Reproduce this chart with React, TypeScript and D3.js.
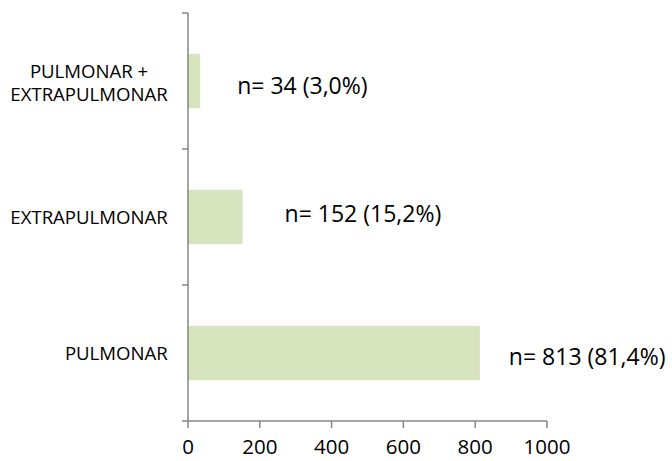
import React, { useEffect, useRef } from 'react';
import * as d3 from 'd3';

const categories = ['PULMONAR + EXTRAPULMONAR', 'EXTRAPULMONAR', 'PULMONAR'];
const categoryLines = [['PULMONAR +', 'EXTRAPULMONAR'], ['EXTRAPULMONAR'], ['PULMONAR']];
const counts = [34, 152, 813];
const valueLabels = ['n= 34 (3,0%)', 'n= 152 (15,2%)', 'n= 813 (81,4%)'];
const xTicks = [0, 200, 400, 600, 800, 1000];

// hand-placed label nudges (relative to bar end / bar centre)
const labelDx = [37, 42, 29];
const labelDy = [5, -3, 4];

export default function App() {
  const svgRef = useRef<SVGSVGElement>(null);

  useEffect(() => {
    if (!svgRef.current) return;
    d3.select(svgRef.current).selectAll('*').remove();

    const W = 672;
    const H = 461;
    const margin = { top: 13, right: 125, bottom: 40, left: 188 };
    const width = W - margin.left - margin.right;
    const height = H - margin.top - margin.bottom;
    const font = '"Open Sans", sans-serif';
    const axisColor = '#868686';

    const svg = d3
      .select(svgRef.current)
      .append('g')
      .attr('transform', `translate(${margin.left},${margin.top})`);

    const x = d3.scaleLinear().domain([0, 1000]).range([0, width]);
    const y = d3
      .scaleBand()
      .domain(categories)
      .range([0, height])
      .paddingInner(0.6)
      .paddingOuter(0.3);
    const step = y.step();

    // bars
    svg
      .selectAll('.bar')
      .data(categories)
      .enter()
      .append('rect')
      .attr('x', 0)
      .attr('y', (d) => y(d)!)
      .attr('width', (_, i) => x(counts[i]))
      .attr('height', y.bandwidth())
      .attr('fill', '#d7e4bd');

    // y axis
    svg
      .append('line')
      .attr('x1', 0)
      .attr('x2', 0)
      .attr('y1', 0)
      .attr('y2', height)
      .attr('stroke', axisColor)
      .attr('stroke-width', 1.5);
    svg
      .selectAll('.ytick')
      .data(d3.range(categories.length + 1))
      .enter()
      .append('line')
      .attr('x1', -6)
      .attr('x2', 0)
      .attr('y1', (i) => i * step)
      .attr('y2', (i) => i * step)
      .attr('stroke', axisColor)
      .attr('stroke-width', 1.5);

    // x axis
    svg
      .append('line')
      .attr('x1', 0)
      .attr('x2', x(1000))
      .attr('y1', height)
      .attr('y2', height)
      .attr('stroke', axisColor)
      .attr('stroke-width', 1.5);
    svg
      .selectAll('.xtick')
      .data(xTicks)
      .enter()
      .append('line')
      .attr('x1', (d) => x(d))
      .attr('x2', (d) => x(d))
      .attr('y1', height)
      .attr('y2', height + 7)
      .attr('stroke', axisColor)
      .attr('stroke-width', 1.5);
    svg
      .selectAll('.xlabel')
      .data(xTicks)
      .enter()
      .append('text')
      .attr('x', (d) => x(d))
      .attr('y', height + 26)
      .attr('dy', '0.357em')
      .attr('text-anchor', 'middle')
      .attr('font-family', font)
      .attr('font-size', 20.5)
      .attr('fill', '#000')
      .text((d) => d);

    // category labels, centred block, right edge near 168
    categories.forEach((c, i) => {
      const lines = categoryLines[i];
      const cy = y(c)! + y.bandwidth() / 2 + (lines.length > 1 ? 2 : 0);
      const t = svg
        .append('text')
        .attr('font-family', font)
        .attr('font-size', 18.6)
        .attr('fill', '#000')
        .attr('text-anchor', 'middle');
      lines.forEach((ln, j) => {
        t.append('tspan')
          .attr('x', -99)
          .attr('y', cy + (j - (lines.length - 1) / 2) * 23.5)
          .attr('dy', '0.357em')
          .text(ln);
      });
      // right-align the block to x = -20
      const bb = (t.node() as SVGTextElement).getBBox();
      t.selectAll('tspan').attr('x', -20 - bb.width / 2);
    });

    // value labels
    svg
      .selectAll('.vlabel')
      .data(categories)
      .enter()
      .append('text')
      .attr('x', (_, i) => x(counts[i]) + labelDx[i])
      .attr('y', (d, i) => y(d)! + y.bandwidth() / 2 + labelDy[i])
      .attr('dy', '0.357em')
      .attr('font-family', font)
      .attr('font-size', 23)
      .attr('fill', '#000')
      .text((_, i) => valueLabels[i]);
  }, []);

  return (
    <svg
      ref={svgRef}
      width={672}
      height={461}
      style={{ position: 'absolute', left: 0, top: 0, background: '#fff' }}
    />
  );
}
